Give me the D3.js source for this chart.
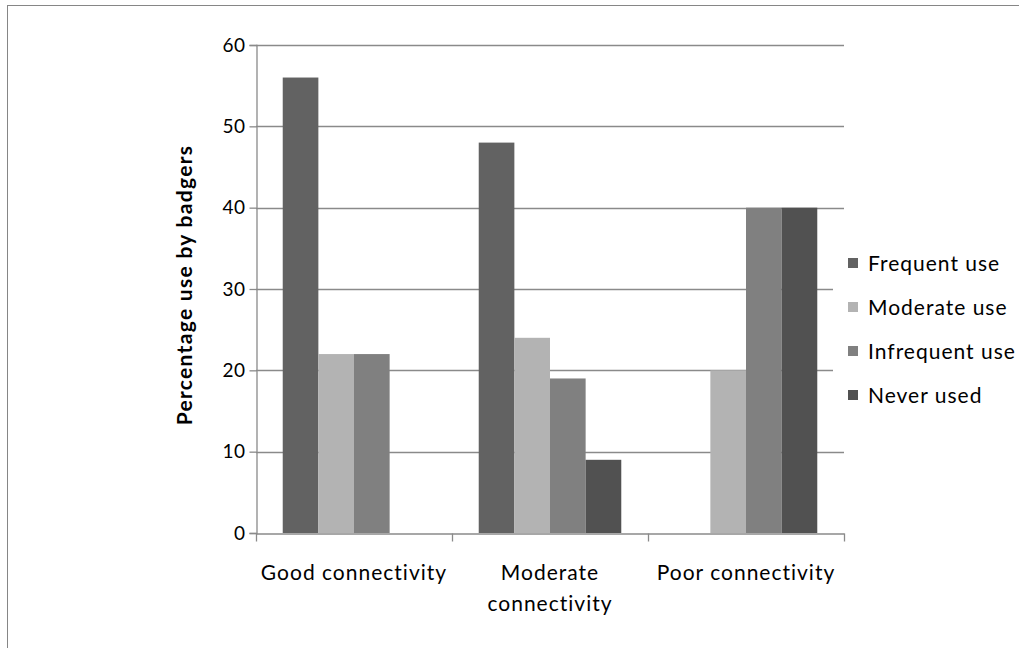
<!DOCTYPE html>
<html>
<head>
<meta charset="utf-8">
<script src="https://cdn.jsdelivr.net/npm/d3@7"></script>
<style>
  html, body { margin: 0; padding: 0; background: #fff; }
  svg { display: block; }
  text { font-family: Lato, "Open Sans", sans-serif; fill: #000; }
</style>
</head>
<body>
<svg id="chart" width="1019" height="648"></svg>
<script>
// Habitat connectivity groups (x categories), wrapped into lines
const categories = ["Good connectivity", "Moderate connectivity", "Poor connectivity"];
const categoryLines = [["Good connectivity"], ["Moderate", "connectivity"], ["Poor connectivity"]];

// Use classes (series)
const series = ["Frequent use", "Moderate use", "Infrequent use", "Never used"];
const seriesColors = ["#626262", "#b3b3b3", "#808080", "#515151"];

// Percentage of sites per class, one array per series, in category order
const frequentUse = [56, 48, 0];
const moderateUse = [22, 24, 20];
const infrequentUse = [22, 19, 40];
const neverUsed = [0, 9, 40];
const seriesValues = [frequentUse, moderateUse, infrequentUse, neverUsed];

// Value axis ticks
const yTicks = [0, 10, 20, 30, 40, 50, 60];
const yTitle = "Percentage use by badgers";

const svg = d3.select("#chart");

// Outer chart frame
svg.append("rect")
  .attr("x", 7.5).attr("y", 5.5)
  .attr("width", 1100).attr("height", 800)
  .attr("fill", "#fff")
  .attr("stroke", "#868686").attr("stroke-width", 1);

const plot = { left: 256, right: 844, top: 45, bottom: 533 };

const x0 = d3.scaleBand()
  .domain(categories)
  .range([plot.left, plot.right])
  .paddingInner(0).paddingOuter(0);

const x1 = d3.scaleBand()
  .domain(series)
  .range([0, x0.bandwidth()])
  .paddingInner(0).paddingOuter(0.75);

const y = d3.scaleLinear()
  .domain([0, 60])
  .range([plot.bottom, plot.top]);

const gridColor = "#8a8a8a";

// Horizontal gridlines
svg.append("g")
  .selectAll("line")
  .data(yTicks.filter(t => t > 0))
  .join("line")
  .attr("x1", plot.left).attr("x2", plot.right)
  .attr("y1", d => Math.round(y(d)) + 0.5).attr("y2", d => Math.round(y(d)) + 0.5)
  .attr("stroke", gridColor).attr("stroke-width", 1.3);

// Bars
const groups = svg.append("g")
  .selectAll("g")
  .data(categories)
  .join("g")
  .attr("transform", d => `translate(${x0(d)},0)`);

groups.selectAll("rect")
  .data((c, ci) => series.map((s, si) => ({ s, si, v: seriesValues[si][ci] })))
  .join("rect")
  .filter(d => d.v > 0)
  .attr("x", d => x1(d.s))
  .attr("width", x1.bandwidth())
  .attr("y", d => y(d.v))
  .attr("height", d => y(0) - y(d.v))
  .attr("fill", d => seriesColors[d.si]);

// Value axis
const yAxis = svg.append("g")
  .attr("transform", `translate(${plot.left + 0.5},0)`)
  .call(d3.axisLeft(y).tickValues(yTicks).tickSize(7).tickPadding(4).tickFormat(d3.format("d")));
yAxis.select(".domain").attr("stroke", gridColor).attr("stroke-width", 1.3);
yAxis.selectAll(".tick line").attr("stroke", gridColor).attr("stroke-width", 1.3);
yAxis.selectAll(".tick text")
  .attr("font-size", 19).attr("font-family", "Lato, sans-serif").attr("fill", "#000")
  .attr("letter-spacing", 0.5);

// Category axis line and tick marks between groups
const xAxis = svg.append("g")
  .attr("transform", `translate(0,${Math.round(y(0)) + 0.5})`)
  .call(d3.axisBottom(x0).tickSize(0).tickFormat(""));
xAxis.select(".domain").attr("stroke", gridColor).attr("stroke-width", 1.3);
const boundaries = categories.map(c => x0(c)).concat([x0(categories[categories.length - 1]) + x0.bandwidth()]);
xAxis.selectAll(".boundary")
  .data(boundaries)
  .join("line")
  .attr("class", "boundary")
  .attr("x1", d => Math.round(d) + 0.5).attr("x2", d => Math.round(d) + 0.5)
  .attr("y1", 0).attr("y2", 8)
  .attr("stroke", gridColor).attr("stroke-width", 1.3);

// Category labels
const catLabels = svg.append("g")
  .selectAll("text")
  .data(categories)
  .join("text")
  .attr("x", d => x0(d) + x0.bandwidth() / 2)
  .attr("y", 580)
  .attr("text-anchor", "middle")
  .attr("font-size", 21)
  .attr("letter-spacing", 1);
catLabels.each(function(d, i) {
  d3.select(this).selectAll("tspan")
    .data(categoryLines[i])
    .join("tspan")
    .attr("x", x0(d) + x0.bandwidth() / 2)
    .attr("dy", (t, j) => j === 0 ? 0 : 31)
    .text(t => t);
});

// Value axis title
svg.append("text")
  .attr("transform", `translate(192,${(plot.top + plot.bottom) / 2 - 4}) rotate(-90)`)
  .attr("text-anchor", "middle")
  .attr("font-size", 21)
  .attr("font-weight", "bold")
  .attr("letter-spacing", 1.3)
  .text(yTitle);

// Legend with white backing
const legend = svg.append("g").attr("transform", "translate(833,236)");
legend.append("rect")
  .attr("x", 0).attr("y", 0).attr("width", 186).attr("height", 184)
  .attr("fill", "#fff");
const items = legend.selectAll("g.item")
  .data(series)
  .join("g")
  .attr("class", "item")
  .attr("transform", (d, i) => `translate(15,${27 + i * 44})`);
items.append("rect")
  .attr("x", 0).attr("y", -5).attr("width", 10).attr("height", 10)
  .attr("fill", (d, i) => seriesColors[i]);
items.append("text")
  .attr("x", 20).attr("y", 0)
  .attr("dy", "0.36em")
  .attr("font-size", 21)
  .attr("letter-spacing", 1)
  .text(d => d);
</script>
</body>
</html>
